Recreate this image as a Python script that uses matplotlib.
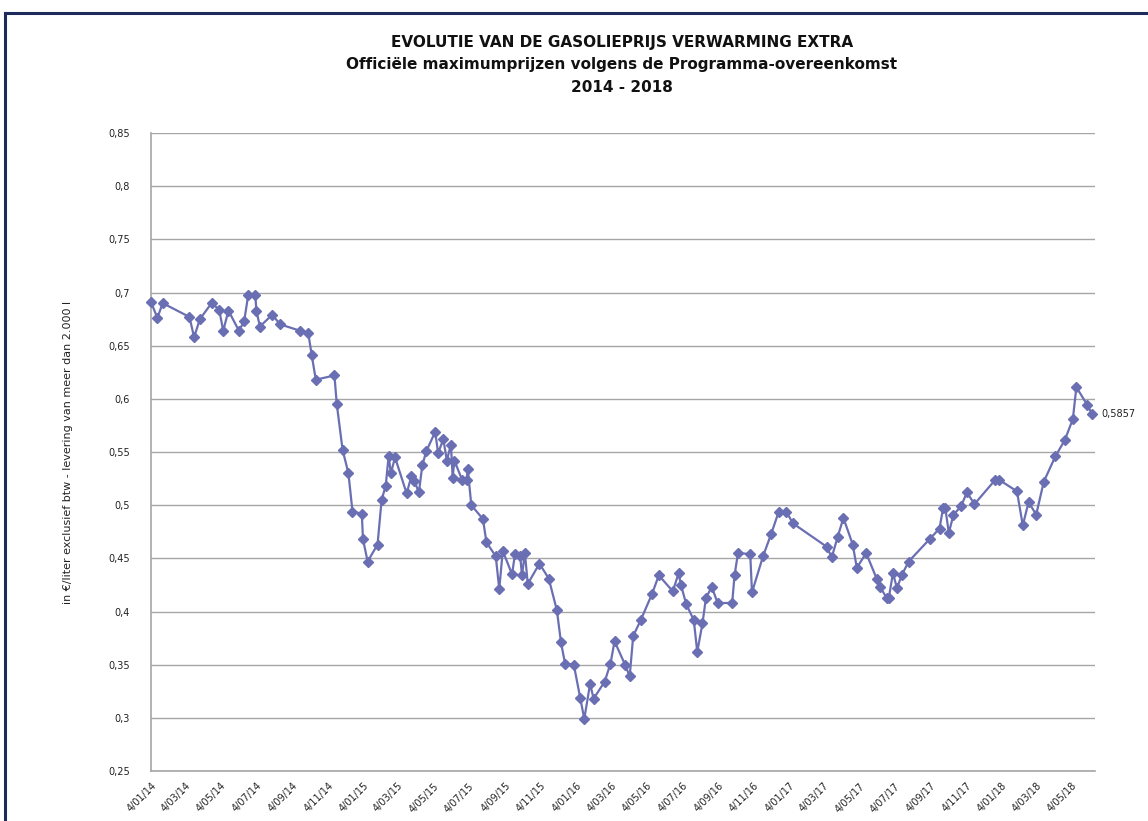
import numpy as np
import pandas as pd
import matplotlib
matplotlib.use("Agg")
import matplotlib.pyplot as plt
from matplotlib.lines import Line2D
from matplotlib.ticker import FuncFormatter, FixedLocator
import matplotlib.dates as mdates

# official maximum prices, gasolie verwarming extra (EUR/l)
dates = [
    "2014-01-04", "2014-01-15", "2014-01-24", "2014-03-11", "2014-03-19", "2014-03-29",
    "2014-04-18", "2014-05-01", "2014-05-08", "2014-05-17", "2014-06-04", "2014-06-13",
    "2014-06-20", "2014-07-02", "2014-07-04", "2014-07-10", "2014-07-31", "2014-08-14",
    "2014-09-17", "2014-10-01", "2014-10-07", "2014-10-14", "2014-11-15", "2014-11-19",
    "2014-11-29", "2014-12-09", "2014-12-16", "2015-01-01", "2015-01-03", "2015-01-11",
    "2015-01-28", "2015-02-04", "2015-02-11", "2015-02-16", "2015-02-20", "2015-02-27",
    "2015-03-19", "2015-03-27", "2015-04-01", "2015-04-09", "2015-04-15", "2015-04-22",
    "2015-05-07", "2015-05-12", "2015-05-21", "2015-05-27", "2015-06-03", "2015-06-06",
    "2015-06-09", "2015-06-22", "2015-06-30", "2015-07-02", "2015-07-08", "2015-07-28",
    "2015-08-03", "2015-08-19", "2015-08-25", "2015-08-31", "2015-09-16", "2015-09-21",
    "2015-09-30", "2015-10-03", "2015-10-08", "2015-10-13", "2015-11-02", "2015-11-18",
    "2015-12-02", "2015-12-09", "2015-12-16", "2015-12-31", "2016-01-11", "2016-01-18",
    "2016-01-28", "2016-02-03", "2016-02-22", "2016-03-03", "2016-03-10", "2016-03-28",
    "2016-04-05", "2016-04-11", "2016-04-24", "2016-05-13", "2016-05-25", "2016-06-18",
    "2016-06-28", "2016-07-02", "2016-07-11", "2016-07-24", "2016-07-30", "2016-08-08",
    "2016-08-14", "2016-08-24", "2016-09-03", "2016-09-28", "2016-10-02", "2016-10-08",
    "2016-10-29", "2016-11-01", "2016-11-20", "2016-12-04", "2016-12-17", "2016-12-30",
    "2017-01-10", "2017-03-09", "2017-03-18", "2017-03-28", "2017-04-07", "2017-04-23",
    "2017-04-30", "2017-05-16", "2017-06-03", "2017-06-09", "2017-06-20", "2017-06-24",
    "2017-07-01", "2017-07-08", "2017-07-16", "2017-07-28", "2017-09-02", "2017-09-19",
    "2017-09-25", "2017-09-29", "2017-10-05", "2017-10-13", "2017-10-26", "2017-11-05",
    "2017-11-18", "2017-12-24", "2017-12-30", "2018-01-30", "2018-02-09", "2018-02-19",
    "2018-03-04", "2018-03-17", "2018-04-06", "2018-04-22", "2018-05-06", "2018-05-12",
    "2018-05-31", "2018-06-08",
]
prices = [
    0.691, 0.676, 0.690, 0.677, 0.658, 0.675,
    0.690, 0.684, 0.664, 0.683, 0.664, 0.673,
    0.698, 0.698, 0.683, 0.668, 0.679, 0.670,
    0.664, 0.662, 0.641, 0.618, 0.622, 0.595,
    0.552, 0.530, 0.494, 0.492, 0.468, 0.447,
    0.463, 0.505, 0.518, 0.546, 0.530, 0.545,
    0.511, 0.527, 0.523, 0.512, 0.538, 0.551,
    0.569, 0.549, 0.562, 0.542, 0.557, 0.526,
    0.542, 0.524, 0.524, 0.534, 0.500, 0.487,
    0.465, 0.452, 0.421, 0.457, 0.435, 0.454,
    0.452, 0.434, 0.455, 0.426, 0.445, 0.431,
    0.401, 0.371, 0.351, 0.350, 0.319, 0.299,
    0.332, 0.318, 0.334, 0.351, 0.372, 0.350,
    0.339, 0.377, 0.392, 0.416, 0.434, 0.419,
    0.436, 0.425, 0.407, 0.392, 0.362, 0.389,
    0.413, 0.423, 0.408, 0.408, 0.434, 0.455,
    0.454, 0.418, 0.452, 0.473, 0.494, 0.494,
    0.483, 0.461, 0.451, 0.470, 0.488, 0.463,
    0.441, 0.455, 0.431, 0.423, 0.413, 0.413,
    0.436, 0.422, 0.434, 0.447, 0.468, 0.478,
    0.497, 0.497, 0.474, 0.491, 0.499, 0.512,
    0.501, 0.524, 0.524, 0.513, 0.481, 0.503,
    0.491, 0.522, 0.546, 0.561, 0.581, 0.611,
    0.594, 0.5857,
]
last_label = "0,5857"

title_lines = [
    "EVOLUTIE VAN DE GASOLIEPRIJS VERWARMING EXTRA",
    "Officiële maximumprijzen volgens de Programma-overeenkomst",
    "2014 - 2018",
]
y_label = "in €/liter exclusief btw - levering van meer dan 2.000 l"

x = pd.to_datetime(dates)
tick_dates = pd.date_range("2014-01-04", "2018-05-04", freq=pd.DateOffset(months=2))
tick_labels = [f"{d.day}/{d.month:02d}/{d.year % 100:02d}" for d in tick_dates]

line_col = "#6a6fb3"
grid_col = "#a6a6a6"

fig = plt.figure(figsize=(11.48, 8.21), dpi=100)
ax = fig.add_axes([151 / 1148, 1 - 771 / 821, (1095 - 151) / 1148, (771 - 133) / 821])

ax.plot(x, prices, color=line_col, lw=1.6, marker="D", ms=5.3,
        markerfacecolor=line_col, markeredgecolor=line_col, zorder=3, clip_on=False)
ax.annotate(last_label, (x[-1], prices[-1]), xytext=(7, 0), textcoords="offset points",
            fontsize=7, va="center", ha="left", color="#222222")

ax.set_xlim(x[0], x[-1] + pd.Timedelta(days=5))
ax.set_ylim(0.25, 0.85)
ax.yaxis.set_major_locator(FixedLocator(np.arange(0.25, 0.851, 0.05)))
ax.yaxis.set_major_formatter(FuncFormatter(lambda v, p: f"{round(v, 2):g}".replace(".", ",")))
ax.set_xticks(mdates.date2num(tick_dates))
ax.set_xticklabels(tick_labels, rotation=45, ha="right", rotation_mode="anchor", fontsize=7)
ax.tick_params(axis="y", length=0, pad=15, labelsize=7, labelcolor="#222222")
ax.tick_params(axis="x", length=0, pad=7, labelcolor="#222222")

ax.grid(axis="y", color=grid_col, lw=1.0)
ax.set_axisbelow(True)
for s in ["top", "right"]:
    ax.spines[s].set_visible(False)
for s in ["left", "bottom"]:
    ax.spines[s].set_color(grid_col)
    ax.spines[s].set_linewidth(1.2)

fig.text(68 / 1148, 1 - 452 / 821, y_label, rotation=90, ha="center", va="center",
         fontsize=8, color="#222222")

for t, yy in zip(title_lines, [43, 65, 87]):
    fig.text(622 / 1148, 1 - yy / 821, t, ha="center", va="center",
             fontsize=11, fontweight="bold", color="#111111")

# frame lines from the original screenshot
fig.add_artist(Line2D([5 / 1148, 1], [1 - 13 / 821, 1 - 13 / 821], color="#1f2a5c", lw=2.2))
fig.add_artist(Line2D([5 / 1148, 5 / 1148], [0, 1 - 13 / 821], color="#1f2a5c", lw=2.2))

fig.savefig("out.png", dpi=100)
